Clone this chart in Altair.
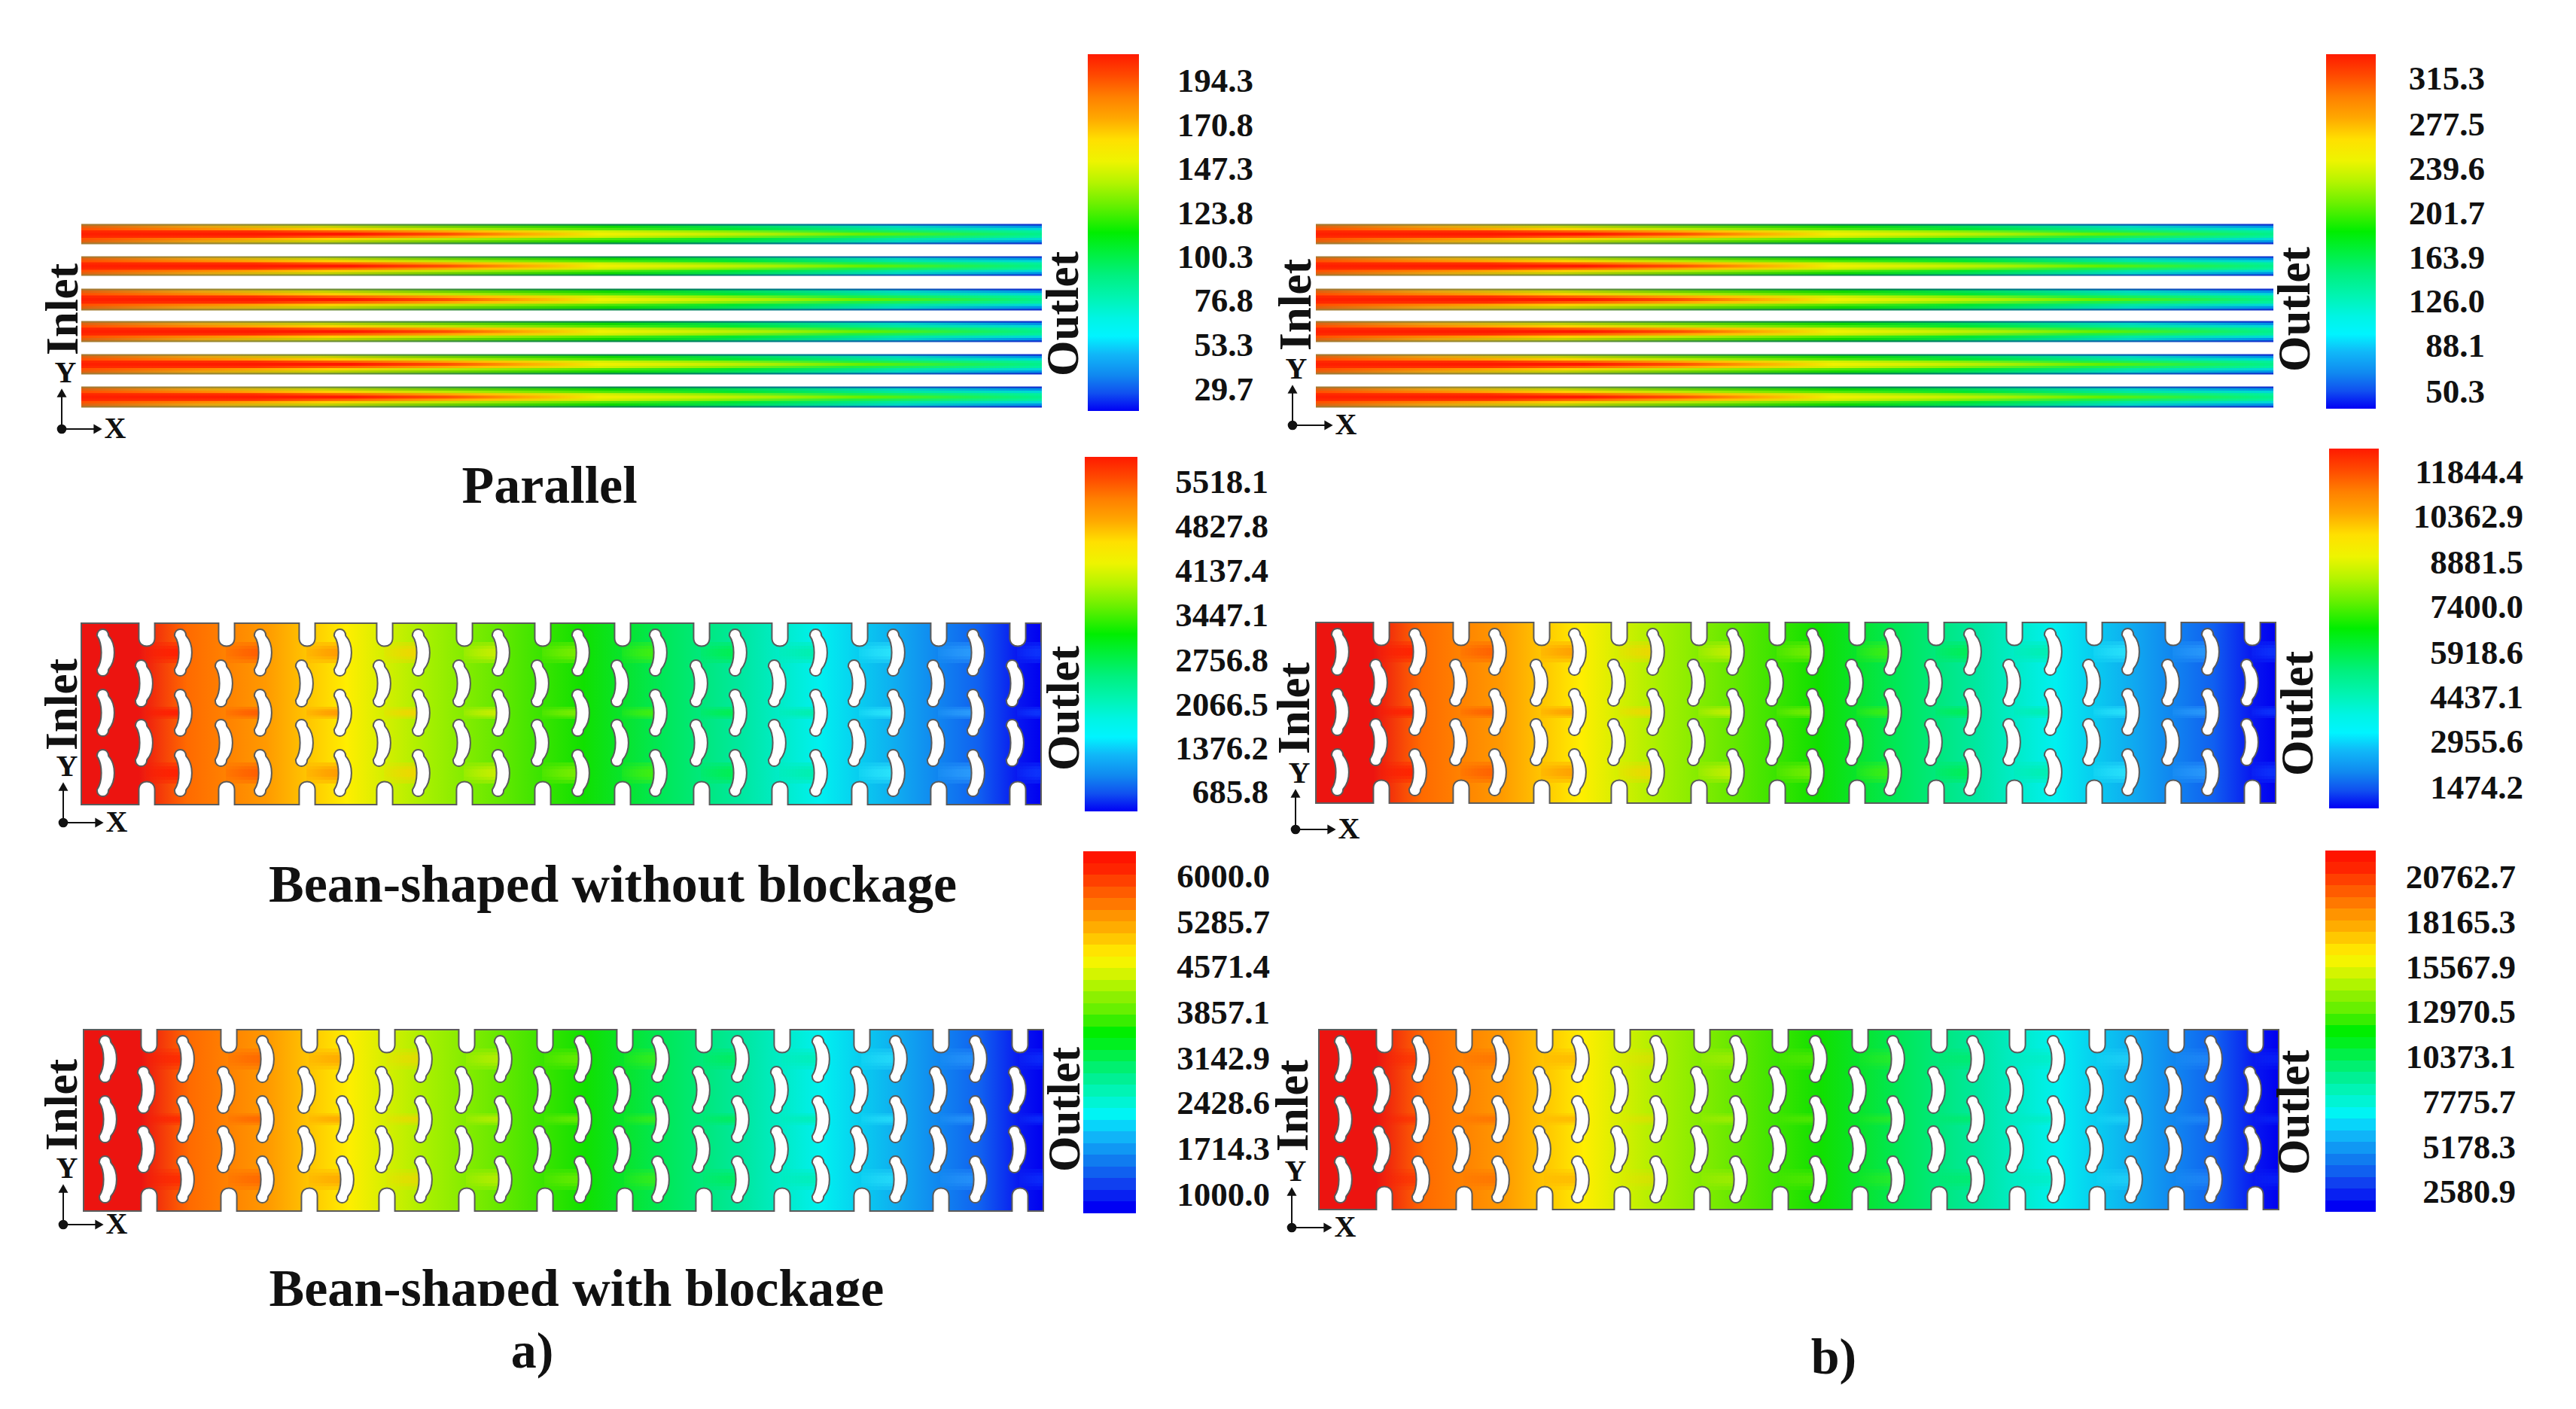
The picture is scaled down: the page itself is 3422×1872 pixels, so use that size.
import altair as alt
import pandas as pd

W, H = 3400, 1850
SX = alt.Scale(domain=[8, 8 + W], nice=False, zero=False)
SY = alt.Scale(domain=[8 + H, 8], nice=False, zero=False)
FONT = "Liberation Serif"

# ---- colour bars ------------------------------------------------------
bar_boxes = [
    (1445, 1513, 72, 546), (1441, 1511, 607, 1078), (1439, 1509, 1131, 1612),
    (3090, 3156, 72, 543), (3094, 3160, 596, 1074), (3089, 3156, 1130, 1610),
]
bar_smooth = [True, True, False, True, True, False]
bar_offsets = [0, .06, .12, .18, .24, .30, .36, .42, .50, .56, .62, .68, .74, .79, .84, .90, .95, 1]
bar_colors = ["#ff1a00", "#ff4a00", "#ff8000", "#ffa800", "#ffe000", "#eef400", "#b4f400", "#6cf000",
              "#00ee00", "#00f040", "#00f080", "#00f4b0", "#00f4e4", "#00f4ff", "#10b8f8", "#1088f0", "#1050f0", "#0000f4"]
band_colors = ["#ff1400", "#ff2400", "#ff4000", "#ff5c00", "#ff7800", "#ff9400", "#ffac00", "#ffc800", "#ffe400",
               "#f4f400", "#d4f400", "#b0f400", "#8cf000", "#68f000", "#38ee00", "#00ee00", "#00f020", "#00f048",
               "#00f070", "#00f094", "#00f4b4", "#00f4d4", "#00f4f4", "#08d4fa", "#10b4f8", "#1098f4", "#107cf0",
               "#1060f0", "#1040f0", "#0820f2", "#0000f4"]

bar_labels = [
    ["194.3", "170.8", "147.3", "123.8", "100.3", "76.8", "53.3", "29.7"],
    ["5518.1", "4827.8", "4137.4", "3447.1", "2756.8", "2066.5", "1376.2", "685.8"],
    ["6000.0", "5285.7", "4571.4", "3857.1", "3142.9", "2428.6", "1714.3", "1000.0"],
    ["315.3", "277.5", "239.6", "201.7", "163.9", "126.0", "88.1", "50.3"],
    ["11844.4", "10362.9", "8881.5", "7400.0", "5918.6", "4437.1", "2955.6", "1474.2"],
    ["20762.7", "18165.3", "15567.9", "12970.5", "10373.1", "7775.7", "5178.3", "2580.9"],
]
label_right = [1665, 1685, 1687, 3301, 3352, 3342]
label_ys = [
    [108, 167, 225, 284, 342, 400, 459, 518],
    [641, 700, 759, 818, 878, 937, 995, 1053],
    [1165, 1226, 1285, 1346, 1407, 1466, 1527, 1588],
    [105, 166, 225, 284, 343, 401, 460, 521],
    [628, 687, 748, 807, 868, 927, 986, 1047],
    [1166, 1226, 1286, 1345, 1405, 1465, 1525, 1584],
]

# ---- straight-channel panels -------------------------------------------
chan_x = [(108, 1384), (1748, 3020)]
chan_y = [(298, 324), (341, 366), (384, 412), (427, 454), (471, 497), (514, 541)]
strip_bands = {
    "rim": [(0, .08), (.92, 1)],
    "edge": [(.08, .2), (.8, .92)],
    "outer": [(.2, .32), (.68, .8)],
    "mid": [(.32, .44), (.56, .68)],
    "core": [(.44, .56)],
}
strip_stops = {
    "rim": [(0, "#a87830"), (.15, "#9a8a30"), (.3, "#60903a"), (.45, "#209040"), (.6, "#008850"),
            (.75, "#007a90"), (.9, "#1050c0"), (1, "#1030d0")],
    "edge": [(0, "#e06010"), (.12, "#e8a010"), (.25, "#c8d000"), (.38, "#70d000"), (.55, "#10d800"),
             (.7, "#00e060"), (.85, "#00d8c0"), (1, "#0090e8")],
    "outer": [(0, "#ff5000"), (.14, "#ff9000"), (.26, "#ffd000"), (.38, "#c0e800"), (.52, "#60e800"),
              (.68, "#00e830"), (.85, "#00e8a0"), (1, "#00d8d8")],
    "mid": [(0, "#ff2800"), (.18, "#ff3000"), (.3, "#ff7000"), (.42, "#ffc000"), (.54, "#d8f000"),
            (.66, "#90f000"), (.8, "#20f040"), (1, "#00f0a0")],
    "core": [(0, "#ff2000"), (.28, "#ff1800"), (.38, "#ff5000"), (.46, "#ffa800"), (.54, "#f0f000"),
             (.62, "#d8f000"), (.72, "#a8f000"), (.82, "#60f000"), (.92, "#20f050"), (1, "#00f090")],
}

# ---- bean-shaped plates ------------------------------------------------
plates = [(108, 828, 1069), (111, 1368, 1609), (1748, 827, 1067), (1752, 1368, 1607)]
plate_width = 1275
bean_col_a = [141, 244, 350, 456, 560, 666, 772, 875, 981, 1088, 1191, 1297]
bean_col_b = [192, 298, 405, 508, 614, 718, 824, 929, 1033, 1139, 1244, 1349]
bean_a_rows = [39, 119, 199]
bean_b_rows = [80, 159]
jet_rows = [39, 119, 199]
jet_half = {39: [14, 9, 5], 119: [8, 5, 3], 199: [14, 9, 5]}
jet_strength = [.38, .26, .34, .16]
col_offsets = [0, .06, .11, .193, .276, .358, .44, .523, .606, .688, .77, .853, .935, .975, 1]
col_colors = ["#ec1410", "#ec1410", "#ff6a00", "#ff9a00", "#ffee00", "#a8f000", "#60e800", "#10e000",
              "#00e858", "#00e8a0", "#00f0f0", "#10a8f0", "#1060f0", "#0818f0", "#0000f0"]
jet_colors = ["#ff1000", "#ff5000", "#ff8800", "#ffd000", "#e0f000", "#90f000", "#50f000",
              "#00f040", "#00f0a0", "#30f0ff", "#30a8ff", "#1040ff"]

BEAN = ("M -0.38 -0.7 C -0.38 -1.06 0.1 -1.06 0.1 -0.7 "
        "C 0.42 -0.35 0.42 0.35 0.1 0.7 "
        "C 0.1 1.06 -0.38 1.06 -0.38 0.7 "
        "C -0.14 0.35 -0.14 -0.35 -0.38 -0.7 Z")
NOTCH_TOP = "M -0.66 -1.2 L 0.66 -1.2 L 0.66 0.3 C 0.66 1.2 -0.66 1.2 -0.66 0.3 Z"
NOTCH_BOT = "M -0.66 1.2 L 0.66 1.2 L 0.66 -0.3 C 0.66 -1.2 -0.66 -1.2 -0.66 -0.3 Z"

# ---- text ---------------------------------------------------------------
captions = [("Parallel", 730, 668), ("Bean-shaped without blockage", 814, 1198),
            ("Bean-shaped with blockage", 766, 1735), ("a)", 707, 1817), ("b)", 2436, 1825)]
side_labels = [
    ("Inlet", 103, 411), ("Outlet", 1432, 417), ("Inlet", 102, 936), ("Outlet", 1433, 941),
    ("Inlet", 102, 1468), ("Outlet", 1434, 1474), ("Inlet", 1741, 405), ("Outlet", 3068, 411),
    ("Inlet", 1739, 941), ("Outlet", 3072, 948), ("Inlet", 1737, 1469), ("Outlet", 3067, 1478),
]
triads = [(82, 570), (84, 1093), (84, 1627), (1717, 565), (1721, 1102), (1716, 1631)]


def grad(stops, horizontal=True):
    return alt.LinearGradient(
        gradient="linear",
        stops=[alt.GradientStop(offset=o, color=c) for o, c in stops],
        x1=0, x2=1 if horizontal else 0, y1=0, y2=0 if horizontal else 1,
    )


def box(df, **mark):
    return alt.Chart(pd.DataFrame(df)).mark_rect(**mark).encode(
        x=alt.X("x:Q", scale=SX, axis=None), x2="x2:Q",
        y=alt.Y("y:Q", scale=SY, axis=None), y2="y2:Q",
    )


def shape(df, path, size, **mark):
    return alt.Chart(pd.DataFrame(df)).mark_point(
        shape=path, size=size, filled=True, opacity=1, **mark
    ).encode(x=alt.X("x:Q", scale=SX, axis=None), y=alt.Y("y:Q", scale=SY, axis=None))


def text(df, **mark):
    return alt.Chart(pd.DataFrame(df)).mark_text(font=FONT, fontWeight="bold", color="#111111", **mark).encode(
        x=alt.X("x:Q", scale=SX, axis=None), y=alt.Y("y:Q", scale=SY, axis=None), text="t:N"
    )


layers = []

# colour bars
smooth = list(zip(bar_offsets, bar_colors))
hard = []
n = len(band_colors)
for i, c in enumerate(band_colors):
    hard += [(i / n, c), ((i + 1) / n, c)]
for flag, stops in ((True, smooth), (False, hard)):
    rows = [dict(x=b[0], x2=b[1], y=b[2], y2=b[3]) for b, s in zip(bar_boxes, bar_smooth) if s == flag]
    layers.append(box(rows, color=grad(stops, horizontal=False)))

# channels
for name, bands in strip_bands.items():
    rows = []
    for xa, xb in chan_x:
        for ya, yb in chan_y:
            for f0, f1 in bands:
                rows.append(dict(x=xa, x2=xb, y=ya + f0 * (yb - ya) - .4, y2=ya + f1 * (yb - ya) + .4))
    layers.append(box(rows, color=grad(strip_stops[name])))

# plates
rows = [dict(x=x0, x2=x0 + plate_width, y=top, y2=bot) for x0, top, bot in plates]
layers.append(box(rows, color=grad(list(zip(col_offsets, col_colors))), stroke="#5c5c5c", strokeWidth=2))

# jets: one gradient per column, rows across all plates
for i, xb in enumerate(bean_col_b):
    xe = bean_col_a[i + 1] if i + 1 < len(bean_col_a) else 1383
    jets = []
    for (x0, top, bot), power in zip(plates, jet_strength):
        dx = x0 - 108
        for r in jet_rows:
            for hh in jet_half[r]:
                jets.append(dict(x=xb + dx + 2, x2=xe + dx, y=top + r - hh, y2=top + r + hh, o=power))
    c = jet_colors[i]
    stops = [(0, c + "30"), (.45, c + "b0"), (.8, c + "ff"), (1, c + "ff")]
    layers.append(
        alt.Chart(pd.DataFrame(jets)).mark_rect(color=grad(stops)).encode(
            x=alt.X("x:Q", scale=SX, axis=None), x2="x2:Q",
            y=alt.Y("y:Q", scale=SY, axis=None), y2="y2:Q",
            opacity=alt.Opacity("o:Q", scale=None),
        )
    )

# notches and beans
ink = dict(fill="white", stroke="#5a5a5a", strokeWidth=2)
for (x0, top, bot) in plates:
    dx = x0 - 108
    notch_x = [xb + dx + 3 for xb in bean_col_b]
    layers.append(shape([dict(x=v, y=top + 15) for v in notch_x], NOTCH_TOP, 32 * 32, **ink))
    layers.append(shape([dict(x=v, y=bot - 15) for v in notch_x], NOTCH_BOT, 32 * 32, **ink))
    layers.append(box([dict(x=x0 - 3, x2=x0 + plate_width + 3, y=top - 9, y2=top - 1),
                       dict(x=x0 - 3, x2=x0 + plate_width + 3, y=bot + 1, y2=bot + 9)], color="white"))
    beans = [dict(x=v + dx, y=top + r) for v in bean_col_a for r in bean_a_rows] + \
            [dict(x=v + dx, y=top + r) for v in bean_col_b for r in bean_b_rows]
    layers.append(shape(beans, BEAN, 64 * 64, **ink))

# coordinate triads
lines = []
for ox, oy in triads:
    lines += [dict(x=ox, x2=ox, y=oy, y2=oy - 50), dict(x=ox, x2=ox + 50, y=oy, y2=oy)]
layers.append(alt.Chart(pd.DataFrame(lines)).mark_rule(color="#111111", strokeWidth=2).encode(
    x=alt.X("x:Q", scale=SX, axis=None), x2="x2:Q", y=alt.Y("y:Q", scale=SY, axis=None), y2="y2:Q"))
dark = dict(fill="#111111", strokeWidth=0)
layers.append(shape([dict(x=a, y=b) for a, b in triads], "circle", 160, **dark))
layers.append(shape([dict(x=a, y=b - 48) for a, b in triads], "triangle-up", 170, **dark))
layers.append(shape([dict(x=a + 48, y=b) for a, b in triads], "triangle-right", 170, **dark))
layers.append(text([dict(t="Y", x=a + 5, y=b - 62) for a, b in triads], fontSize=40, align="center", baseline="alphabetic"))
layers.append(text([dict(t="X", x=a + 71, y=b + 12) for a, b in triads], fontSize=40, align="center", baseline="alphabetic"))

# tick labels
rows = []
for labs, ys, right in zip(bar_labels, label_ys, label_right):
    rows += [dict(t=l, x=right, y=y) for l, y in zip(labs, ys)]
layers.append(text(rows, fontSize=45, align="right", baseline="middle"))

# side labels and captions
layers.append(text([dict(t=t, x=x, y=y) for t, x, y in side_labels], fontSize=61, angle=270,
                   align="center", baseline="alphabetic"))
layers.append(text([dict(t=t, x=x, y=y) for t, x, y in captions[:3]], fontSize=70, align="center", baseline="alphabetic"))
layers.append(text([dict(t=t, x=x, y=y) for t, x, y in captions[3:]], fontSize=68, align="center", baseline="alphabetic"))
layers.append(box([dict(x=340, x2=1220, y=1735, y2=1760)], color="white"))

chart = alt.layer(*layers).properties(
    width=W, height=H, padding=0, autosize=alt.AutoSizeParams(type="none")
).configure_view(stroke=None)

chart.save("out.html", embed_options={"renderer": "svg", "actions": False})
